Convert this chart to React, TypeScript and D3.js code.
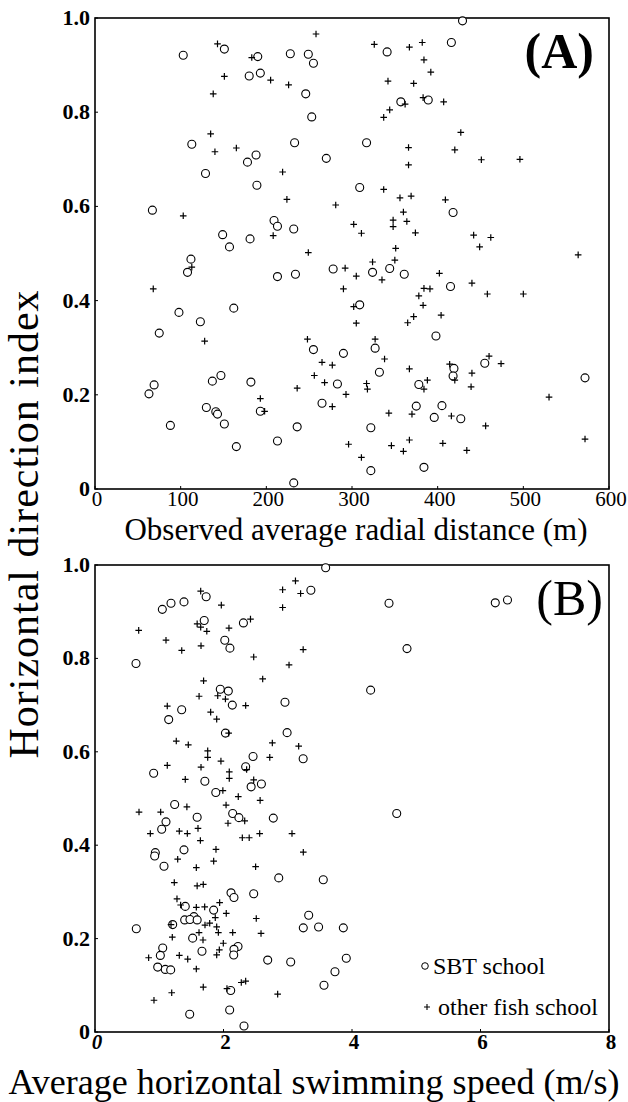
import * as d3 from "d3";

// Panel A: observed average radial distance (m) vs horizontal direction index
const sbtA: [number, number][] = [
  [103, 0.921], [151, 0.934], [190, 0.918], [228, 0.924], [249, 0.923], [255, 0.904], [180, 0.877], [193, 0.883],
  [246, 0.839], [253, 0.79], [113, 0.732], [233, 0.735], [188, 0.709], [178, 0.694], [270, 0.702], [129, 0.67],
  [189, 0.645], [309, 0.64], [67, 0.592], [209, 0.57], [213, 0.558], [232, 0.552], [149, 0.54], [157, 0.514],
  [181, 0.531], [112, 0.488],
  [429, 0.994], [416, 0.948], [341, 0.928], [357, 0.822], [389, 0.826], [317, 0.735], [418, 0.587],
  [108, 0.46], [213, 0.451], [234, 0.456], [278, 0.467], [98, 0.375], [162, 0.384], [123, 0.355], [75, 0.331],
  [309, 0.391], [255, 0.296], [290, 0.288], [147, 0.241], [137, 0.229], [69, 0.221], [63, 0.202], [182, 0.227],
  [283, 0.223], [265, 0.182], [130, 0.173], [141, 0.164], [143, 0.159], [193, 0.165], [151, 0.138], [88, 0.135],
  [236, 0.132], [213, 0.102], [165, 0.09], [232, 0.013],
  [324, 0.46], [344, 0.468], [361, 0.456], [415, 0.43], [398, 0.325], [327, 0.299], [332, 0.248], [378, 0.222],
  [419, 0.256], [418, 0.24], [455, 0.267], [572, 0.236], [375, 0.176], [405, 0.177], [396, 0.152], [427, 0.149],
  [322, 0.13], [322, 0.039], [384, 0.046],
];

const otherA: [number, number][] = [
  [258, 0.966], [143, 0.945], [183, 0.916], [151, 0.876], [205, 0.868], [226, 0.858], [138, 0.839], [135, 0.754],
  [140, 0.716], [165, 0.724], [219, 0.673], [224, 0.615], [281, 0.603], [103, 0.58], [302, 0.562], [208, 0.538],
  [249, 0.502],
  [326, 0.944], [367, 0.938], [382, 0.948], [384, 0.911], [392, 0.885], [342, 0.866], [372, 0.861], [362, 0.817],
  [383, 0.831], [407, 0.822], [344, 0.805], [337, 0.789], [427, 0.757], [366, 0.725], [420, 0.72], [451, 0.699],
  [496, 0.7], [366, 0.688], [337, 0.636], [356, 0.618], [369, 0.622], [409, 0.614], [360, 0.588], [348, 0.571],
  [348, 0.557], [364, 0.568], [374, 0.544], [311, 0.543], [442, 0.539], [462, 0.534], [449, 0.514], [351, 0.511],
  [564, 0.497],
  [113, 0.471], [68, 0.425], [290, 0.425], [305, 0.452], [292, 0.469], [302, 0.387], [305, 0.352], [128, 0.314],
  [248, 0.318], [265, 0.269], [277, 0.263], [256, 0.241], [268, 0.226], [236, 0.214], [293, 0.201], [193, 0.192],
  [198, 0.165], [277, 0.175], [296, 0.095],
  [324, 0.482], [350, 0.486], [335, 0.444], [402, 0.458], [384, 0.426], [391, 0.425], [378, 0.41], [383, 0.39],
  [440, 0.437], [458, 0.414], [500, 0.414], [372, 0.366], [365, 0.353], [404, 0.369], [327, 0.318], [338, 0.276],
  [367, 0.255], [414, 0.265], [420, 0.231], [440, 0.246], [439, 0.217], [460, 0.282], [474, 0.266], [317, 0.224],
  [318, 0.212], [388, 0.231], [384, 0.212], [343, 0.161], [370, 0.159], [416, 0.155], [456, 0.134], [530, 0.195],
  [572, 0.106], [346, 0.092], [360, 0.08], [367, 0.104], [406, 0.097], [434, 0.082], [311, 0.067],
];

// Panel B: average horizontal swimming speed (m/s) vs horizontal direction index
const sbtB: [number, number][] = [
  [3.59, 0.994], [3.36, 0.946], [1.73, 0.932], [1.385, 0.921], [1.183, 0.918], [1.048, 0.905], [1.7, 0.881],
  [2.31, 0.876], [2.02, 0.839], [2.1, 0.822], [0.638, 0.789], [1.95, 0.734], [2.075, 0.73], [2.137, 0.7],
  [2.957, 0.706], [1.349, 0.69], [1.147, 0.669], [2.03, 0.64], [2.99, 0.641], [2.46, 0.59], [3.24, 0.585],
  [2.345, 0.568], [0.913, 0.554], [1.71, 0.537], [2.59, 0.531], [2.43, 0.525], [1.88, 0.513], [1.24, 0.487],
  [4.576, 0.918], [6.23, 0.919], [6.42, 0.925], [4.856, 0.821], [4.29, 0.732], [4.696, 0.468],
  [1.59, 0.46], [2.143, 0.468], [2.24, 0.459], [2.775, 0.458], [1.105, 0.45], [1.038, 0.434], [1.385, 0.39],
  [0.939, 0.384], [0.929, 0.377], [1.074, 0.355], [2.86, 0.33], [3.553, 0.326], [2.117, 0.298], [2.163, 0.288],
  [2.47, 0.296], [1.405, 0.269], [1.847, 0.261], [1.54, 0.247], [1.396, 0.24], [1.478, 0.241], [1.59, 0.24],
  [1.209, 0.23], [3.326, 0.25], [3.242, 0.223], [3.48, 0.225], [3.865, 0.223], [0.643, 0.221], [1.52, 0.201],
  [1.054, 0.18], [2.226, 0.183], [2.163, 0.177], [1.017, 0.164], [1.665, 0.173], [2.159, 0.165], [3.911, 0.158],
  [2.688, 0.154], [3.046, 0.15], [0.976, 0.139], [1.094, 0.134], [1.178, 0.133], [3.735, 0.129], [3.564, 0.1],
  [2.112, 0.089], [2.096, 0.047], [1.474, 0.038], [2.319, 0.013],
];

const otherB: [number, number][] = [
  [3.12, 0.966], [2.92, 0.947], [3.2, 0.939], [1.645, 0.944], [1.966, 0.914], [2.92, 0.909], [1.59, 0.874],
  [1.645, 0.867], [1.74, 0.858], [2.085, 0.865], [2.42, 0.884], [0.68, 0.86], [1.105, 0.839], [1.65, 0.827],
  [1.35, 0.817], [3.24, 0.819], [2.47, 0.803], [3.02, 0.786], [2.61, 0.756], [1.69, 0.752], [1.62, 0.719],
  [1.91, 0.72], [2.03, 0.713], [2.345, 0.699], [1.125, 0.698], [1.8, 0.685], [1.894, 0.67], [2.08, 0.64],
  [1.265, 0.623], [1.452, 0.615], [2.76, 0.619], [3.17, 0.612], [1.754, 0.602], [1.754, 0.588], [1.96, 0.58],
  [2.72, 0.588], [1.125, 0.571], [1.65, 0.567], [2.09, 0.557], [2.09, 0.543], [1.405, 0.541], [2.36, 0.562],
  [2.47, 0.54], [1.99, 0.517], [2.23, 0.504], [2.57, 0.496], [1.43, 0.482], [2.04, 0.486],
  [0.685, 0.471], [1.022, 0.471], [2.07, 0.447], [2.33, 0.452], [0.861, 0.425], [1.312, 0.43], [1.437, 0.425],
  [1.603, 0.436], [1.64, 0.41], [2.293, 0.416], [2.4, 0.416], [2.563, 0.425], [3.066, 0.425], [1.883, 0.391],
  [1.287, 0.37], [1.847, 0.366], [3.242, 0.385], [1.577, 0.352], [2.5, 0.354], [1.234, 0.32], [1.59, 0.313],
  [1.685, 0.316], [1.276, 0.285], [1.333, 0.272], [1.577, 0.267], [1.707, 0.268], [1.94, 0.277], [2.043, 0.254],
  [1.872, 0.245], [2.51, 0.243], [1.183, 0.23], [1.712, 0.229], [1.785, 0.233], [1.894, 0.225], [1.619, 0.213],
  [1.92, 0.213], [2.143, 0.213], [2.584, 0.211], [1.203, 0.203], [1.681, 0.197], [1.997, 0.19], [1.935, 0.176],
  [1.894, 0.165], [0.835, 0.159], [1.312, 0.164], [1.443, 0.156], [1.577, 0.135], [1.685, 0.096], [2.054, 0.093],
  [2.277, 0.106], [2.345, 0.109], [1.194, 0.084], [2.843, 0.081], [0.918, 0.068],
];

const yTicks = [0, 0.2, 0.4, 0.6, 0.8, 1.0];
const xTicksA = [0, 100, 200, 300, 400, 500, 600];
const xTicksB = [0, 2, 4, 6, 8];

const FONT = "'Liberation Serif', 'Times New Roman', 'DejaVu Serif', serif";

const cross = (s: number) => `M${-s},0H${s}M0,${-s}V${s}`;

interface PanelProps {
  sbt: [number, number][];
  other: [number, number][];
  xDomain: [number, number];
  xTicks: number[];
  top: number;
  bottom: number;
  tag: string;
  tagBold: boolean;
  tagX: number;
  xTickBold: boolean;
}

function Panel(p: PanelProps) {
  const x = d3.scaleLinear().domain(p.xDomain).range([95, 609]);
  const y = d3.scaleLinear().domain([0, 1]).range([p.bottom, p.top]);
  return (
    <g>
      {/* frame */}
      <rect x={95} y={p.top} width={514} height={p.bottom - p.top} fill="none" stroke="#000" strokeWidth={1.6} />
      {yTicks.map((t) => (
        <g key={"y" + t}>
          <line x1={95} x2={98} y1={y(t)} y2={y(t)} stroke="#000" strokeWidth={1} />
          <text x={90} y={y(t) + 7} textAnchor="end" style={{ fontFamily: FONT }} fontSize={22} fontWeight="bold">
            {t === 0 ? "0" : d3.format(".1f")(t)}
          </text>
        </g>
      ))}
      {p.xTicks.map((t) => (
        <g key={"x" + t}>
          <line x1={x(t)} x2={x(t)} y1={p.bottom} y2={p.bottom - 3} stroke="#000" strokeWidth={1} />
          <text
            x={x(t) + 2}
            y={p.bottom + 17}
            textAnchor="middle"
            style={{ fontFamily: FONT }}
            fontSize={21}
            fontWeight={p.xTickBold ? "bold" : "normal"}
            fontStyle={p.xTickBold && t === 0 ? "italic" : "normal"}
          >
            {t}
          </text>
        </g>
      ))}
      {p.sbt.map((d, i) => (
        <circle key={"c" + i} cx={x(d[0])} cy={y(d[1])} r={4} fill="#fff" stroke="#000" strokeWidth={1.1} />
      ))}
      {p.other.map((d, i) => (
        <path
          key={"p" + i}
          d={cross(3.3)}
          transform={`translate(${x(d[0])},${y(d[1])})`}
          stroke="#000"
          strokeWidth={1.2}
          fill="none"
        />
      ))}
      <text
        x={p.tagX}
        y={p.top + 50}
        textAnchor="end"
        style={{ fontFamily: FONT }}
        fontSize={50}
        fontWeight={p.tagBold ? "bold" : "normal"}
      >
        {p.tag}
      </text>
    </g>
  );
}

export default function App() {
  return (
    <svg
      width={628}
      height={1102}
      style={{ position: "absolute", left: 0, top: 0, background: "#fff" }}
    >
      <rect width={628} height={1102} fill="#fff" />
      <Panel
        sbt={sbtA}
        other={otherA}
        xDomain={[0, 600]}
        xTicks={xTicksA}
        top={18}
        bottom={489}
        tag="(A)"
        tagBold={true}
        tagX={594}
        xTickBold={false}
      />
      <Panel
        sbt={sbtB}
        other={otherB}
        xDomain={[0, 8]}
        xTicks={xTicksB}
        top={565}
        bottom={1032}
        tag="(B)"
        tagBold={false}
        tagX={603}
        xTickBold={true}
      />
      <text x={356} y={540} textAnchor="middle" style={{ fontFamily: FONT }} fontSize={31}>
        Observed average radial distance (m)
      </text>
      <text x={314} y={1094} textAnchor="middle" style={{ fontFamily: FONT }} fontSize={36}>
        Average horizontal swimming speed (m/s)
      </text>
      <text
        transform="translate(38,524) rotate(-90)"
        textAnchor="middle"
        style={{ fontFamily: FONT }}
        fontSize={42}
        letterSpacing={1}
      >
        Horizontal direction index
      </text>
      {/* legend */}
      <circle cx={425} cy={966} r={3.3} fill="#fff" stroke="#000" strokeWidth={1} />
      <text x={433} y={974} style={{ fontFamily: FONT }} fontSize={24}>SBT school</text>
      <path d={cross(3)} transform="translate(427,1007)" stroke="#000" strokeWidth={1.1} />
      <text x={438} y={1015} style={{ fontFamily: FONT }} fontSize={24}>other fish school</text>
    </svg>
  );
}
